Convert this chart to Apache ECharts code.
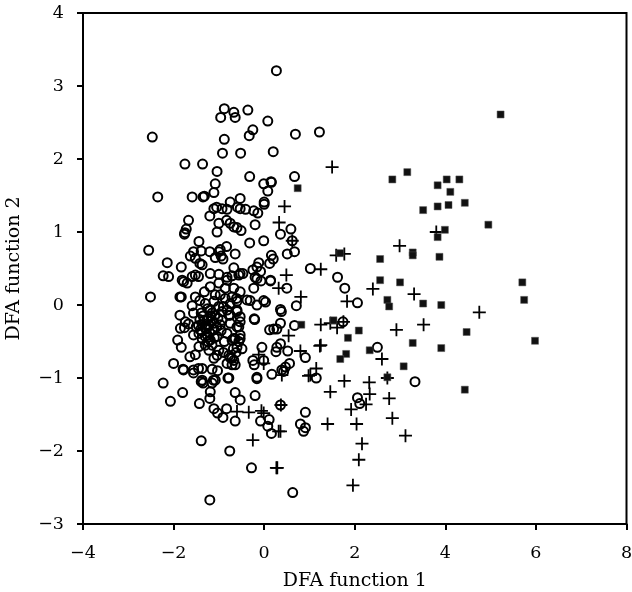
<!DOCTYPE html>
<html><head><meta charset="utf-8">
<style>html,body{margin:0;padding:0;background:#fff}#c{width:632px;height:592px}</style>
<script src="https://cdn.jsdelivr.net/npm/echarts@6/dist/echarts.min.js"></script>
</head><body><div id="c"></div>
<script>
const xTitle = 'DFA function 1';
const yTitle = 'DFA function 2';
const circles = [
[0.27,3.21],[-0.88,2.69],[-0.67,2.64],[-0.96,2.57],[-0.64,2.57],[-0.36,2.67],[0.08,2.52],[-0.25,2.40],[-0.33,2.32],[-0.88,2.27],[-2.47,2.30],[-0.92,2.08],[-0.52,2.08],[0.20,2.10],[-1.75,1.93],[-1.36,1.93],[-1.04,1.83],[-0.32,1.76],[0.15,1.69],[0.69,2.34],[1.22,2.37],[0.67,1.76],[-0.01,1.66],[0.16,1.68],[0.08,1.56],[0.0,1.41],[0.0,1.38],[-0.53,1.46],[-0.75,1.41],[-0.59,1.34],[-0.53,1.32],[-0.41,1.31],[-0.23,1.29],[-0.14,1.26],[-0.2,1.10],[-0.67,1.07],[-0.6,1.06],[-0.51,1.02],[-0.75,1.12],[0.36,0.97],[0.59,1.04],[0.62,0.88],[-0.32,0.85],[-0.01,0.88],[0.67,0.73],[0.51,0.70],[-0.64,0.70],[0.16,0.68],[0.2,0.63],[0.12,0.57],[-0.12,0.58],[-0.16,0.52],[-0.25,0.48],[-0.08,0.46],[-0.67,0.51],[1.02,0.50],[-0.47,0.43],[-0.56,0.41],[-0.71,0.40],[-0.2,0.38],[0.14,0.34],
[-1.08,1.66],[-1.11,1.54],[-2.35,1.48],[-1.59,1.48],[-1.35,1.48],[-1.32,1.49],[-1.11,1.32],[-1.05,1.34],[-0.93,1.32],[-0.82,1.31],[-1.2,1.22],[-1,1.12],[-0.83,1.16],[-1.04,1.0],[-1.67,1.16],[-1.72,1.04],[-1.75,0.99],[-1.76,0.97],[-1.44,0.87],[-2.55,0.75],[-0.83,0.80],[-0.97,0.76],[-1.0,0.73],[-1.56,0.73],[-1.39,0.74],[-1.2,0.73],[-1.63,0.67],[-0.95,0.67],[-0.91,0.63],[-1.08,0.65],[-2.14,0.58],[-1.83,0.52],[-1.52,0.64],[-1.42,0.57],[-1.37,0.55],[-2.23,0.40],[-2.11,0.39],[-1.81,0.34],[-1.59,0.39],[-1.52,0.41],[-1.45,0.39],[-1.19,0.43],[-1,0.42],[-0.82,0.38],
[-2.51,0.11],[-1.86,0.11],[-1.83,0.11],[-1.78,0.32],[-1.70,0.30],[-1.52,0.11],[-1.42,0.06],[-1.59,-0.01],[-1.32,0.18],[-1.19,0.25],[-1,0.30],[-0.82,0.34],[-0.67,0.23],[-1.08,0.14],[-0.86,0.09],[-0.71,0.11],[-0.6,0.05],[-1.56,-0.11],[-1.39,-0.11],[-1.86,-0.14],[-1.74,-0.23],[-1.67,-0.26],[-1.85,-0.32],[-1.76,-0.31],[-1.56,-0.41],[-1.91,-0.48],[-1.83,-0.58],[-2.0,-0.80],[-1.79,-0.88],[-1.64,-0.71],[-1.52,-0.68],[-1.56,-0.89],[-1.45,-0.87],[-1.37,-0.87],[-1.15,-0.88],[-1.03,-0.90],[-0.78,-1.0],[-1.37,-1.03],[-1.12,-1.03],
[-1.41,-0.34],[-1.30,-0.32],[-1.44,-0.39],[-1.22,-0.27],[-1.33,-0.21],[-1.15,-0.21],[-1.08,-0.14],[-1.19,-0.07],[-0.93,-0.09],[-0.82,-0.07],[-1.11,0.05],[-1.0,-0.02],[-0.75,0.02],[-0.97,0.14],[-0.86,0.23],[-1.37,-0.46],[-1.19,-0.48],[-1.26,-0.41],[-1.11,-0.34],[-0.97,-0.27],[-1.04,-0.43],[-0.82,-0.39],[-0.67,-0.46],[-0.56,-0.50],[-1.44,-0.57],[-1.22,-0.62],[-1.0,-0.62],[-1.11,-0.73],[-1.04,-0.69],[-0.78,-0.69],[-0.71,-0.73],[-0.82,-0.80],[-0.71,-0.82],[-0.93,-0.21],[-0.75,-0.25],[-0.6,-0.30],[-0.78,-0.14],[-0.6,-0.07],[-1.26,-0.21],[-1.37,-0.27],[-1.30,-0.43],[-1.11,-0.25],[-1.15,-0.11],
[-1.45,-0.28],[-1.38,-0.36],[-1.35,-0.15],[-1.27,-0.33],[-1.24,-0.5],[-1.2,-0.38],[-1.18,-0.15],[-1.1,-0.45],[-1.05,-0.3],[-1.02,-0.18],[-0.95,-0.35],[-0.9,-0.02],[-1.25,-0.05],[-1.3,0.02],[-1.42,-0.2],[-1.5,-0.3],[-0.88,-0.5],[-0.9,-0.65],[-1.3,-0.55],[-1.15,-0.55],[-0.62,-0.65],[-0.68,-0.6],
[-0.53,0.43],[0.14,0.33],[-0.16,0.36],[-0.07,0.33],[-0.23,0.23],[0.50,0.23],[-0.53,0.18],[-0.61,0.09],[-0.38,0.07],[-0.31,0.06],[-0.16,0.0],[-0.01,0.06],[0.03,0.04],[0.71,-0.01],[0.36,-0.06],[0.38,-0.09],[-0.22,-0.19],[-0.21,-0.20],[-0.53,-0.16],[-0.6,-0.09],[-0.75,-0.14],[-0.53,-0.23],[-0.56,-0.30],[0.67,-0.28],[0.36,-0.25],[0.12,-0.34],[0.21,-0.33],[0.28,-0.33],[-0.53,-0.41],[-0.53,-0.46],[-0.64,-0.46],[-0.71,-0.48],[-0.49,-0.60],[-0.6,-0.58],[-0.05,-0.58],[0.36,-0.53],[0.28,-0.58],[0.26,-0.64],[0.52,-0.63],[0.91,-0.72],[-0.25,-0.76],[-0.22,-0.82],[-0.01,-0.76],[-0.75,-0.72],[-0.67,-0.76],[-0.64,-0.82],[0.56,-0.80],[0.47,-0.85],[0.39,-0.89],[0.43,-0.91],[0.17,-0.95],[-0.16,-0.99],[1.15,-1.0],
[-2.23,-1.07],[-1.80,-1.20],[-2.07,-1.32],[-1.43,-1.35],[-1.19,-1.19],[-1.2,-1.28],[-1.39,-1.05],[-1.35,-1.07],[-1.08,-1.03],[-1.15,-1.07],[-0.8,-1.0],[-0.16,-1.01],[-1.56,-0.93],[-1.78,-0.89],[-0.64,-1.20],[-0.53,-1.30],[-0.2,-1.24],[-1.11,-1.42],[-1.03,-1.48],[-0.91,-1.54],[-0.83,-1.42],[-0.64,-1.59],[-0.08,-1.59],[0.11,-1.57],[0.08,-1.66],[0.16,-1.76],[0.36,-1.37],[0.80,-1.63],[0.91,-1.68],[0.87,-1.73],[0.91,-1.47],[-1.39,-1.86],[-0.76,-2.0],[-0.28,-2.23],[0.63,-2.57],[-1.2,-2.67],
[1.62,0.38],[1.78,0.23],[2.06,0.03],[1.74,-0.23],[2.50,-0.58],[3.33,-1.05],[2.06,-1.27],[2.11,-1.35]
];
const pluses = [
[0.45,1.35],[0.33,1.13],[0.62,0.88],[1.59,0.68],[1.77,0.70],[0.49,0.41],[1.25,0.49],[0.32,0.23],[0.81,0.11],[1.25,-0.27],[0.54,-0.42],[1.23,-0.56],[1.25,-0.55],[0.80,-0.63],[-0.12,-0.68],[-0.01,-0.80],[1.15,-0.87],[1.02,-0.96],[0.39,-0.96],[-0.6,-1.46],[-0.34,-1.47],[-0.06,-1.45],[-0.01,-1.48],[0.37,-1.37],[0.98,-0.97],[0.36,-1.73],[0.32,-1.73],[-0.25,-1.85],[0.27,-2.23],[0.29,-2.23],
[2.40,0.22],[3.31,0.15],[1.83,0.05],[4.75,-0.10],[1.75,-0.23],[1.61,-0.31],[2.92,-0.34],[3.52,-0.27],[2.60,-0.74],[1.77,-1.04],[2.32,-1.06],[2.72,-1.0],[2.33,-1.22],[2.76,-1.28],[2.25,-1.36],[1.92,-1.43],[2.83,-1.55],[2.04,-1.63],[3.12,-1.79],[2.16,-1.90],[2.09,-2.12],[1.96,-2.47],[1.46,-1.19],[1.40,-1.63],[2.99,0.81],[3.80,1.0],[1.5,1.89],[1.46,-0.25]
];
const squares = [
[2.56,0.34],[3.0,0.31],[2.72,0.07],[2.76,-0.02],[3.51,0.02],[3.91,0.0],[5.70,0.31],[5.74,0.07],[5.98,-0.49],[4.47,-0.37],[2.09,-0.35],[1.85,-0.45],[1.53,-0.21],[3.28,-0.52],[3.91,-0.59],[2.33,-0.62],[1.81,-0.67],[1.68,-0.74],[3.08,-0.84],[2.72,-0.99],[4.43,-1.16],[0.82,-0.27],
[5.22,2.61],[3.16,1.82],[2.83,1.72],[3.83,1.64],[4.03,1.72],[4.31,1.72],[4.11,1.55],[3.51,1.30],[3.83,1.35],[4.07,1.37],[4.43,1.40],[4.95,1.10],[3.99,1.03],[3.83,0.93],[3.28,0.72],[3.28,0.68],[3.87,0.66],[2.56,0.63],[0.74,1.60],[1.68,0.71]
];
const font = 'DejaVu Serif';
const fmt = v => String(v).replace('-', '\u2212');
const axisCommon = {
  type:'value', nameLocation:'middle',
  nameTextStyle:{fontFamily:font,fontSize:19,color:'#000'},
  splitLine:{show:false},
  axisLine:{show:true,onZero:false,lineStyle:{color:'#000',width:2}},
  axisTick:{show:true,length:6,lineStyle:{color:'#000',width:2}},
  axisLabel:{fontFamily:font,fontSize:17.5,color:'#000',formatter:fmt,hideOverlap:false,showMinLabel:true,showMaxLabel:true}
};
const chart = echarts.init(document.getElementById('c'),null,{renderer:'canvas'});
chart.setOption({
  animation:false,
  backgroundColor:'#fff',
  grid:{left:83,right:5.5,top:13,bottom:68,show:true,borderColor:'#000',borderWidth:2,backgroundColor:'transparent',outerBoundsMode:'none'},
  xAxis:Object.assign({},axisCommon,{min:-4,max:8,interval:2,name:xTitle,nameGap:48,axisLabel:Object.assign({},axisCommon.axisLabel,{margin:20})}),
  yAxis:Object.assign({},axisCommon,{min:-3,max:4,interval:1,name:yTitle,nameGap:59,axisLabel:Object.assign({},axisCommon.axisLabel,{margin:19})}),
  series:[
    {type:'scatter',data:circles,symbol:'circle',symbolSize:9,silent:true,
     itemStyle:{color:'transparent',borderColor:'#000',borderWidth:2,opacity:1}},
    {type:'scatter',data:pluses,symbol:'path://M0 6.5H13M6.5 0V13',symbolSize:13,silent:true,
     itemStyle:{color:'none',borderColor:'#000',borderWidth:1.8,opacity:1}},
    {type:'scatter',data:squares,symbol:'rect',symbolSize:7,silent:true,
     itemStyle:{color:'#111',borderColor:'#555',borderWidth:0.5,opacity:1}}
  ]
});
</script></body></html>
